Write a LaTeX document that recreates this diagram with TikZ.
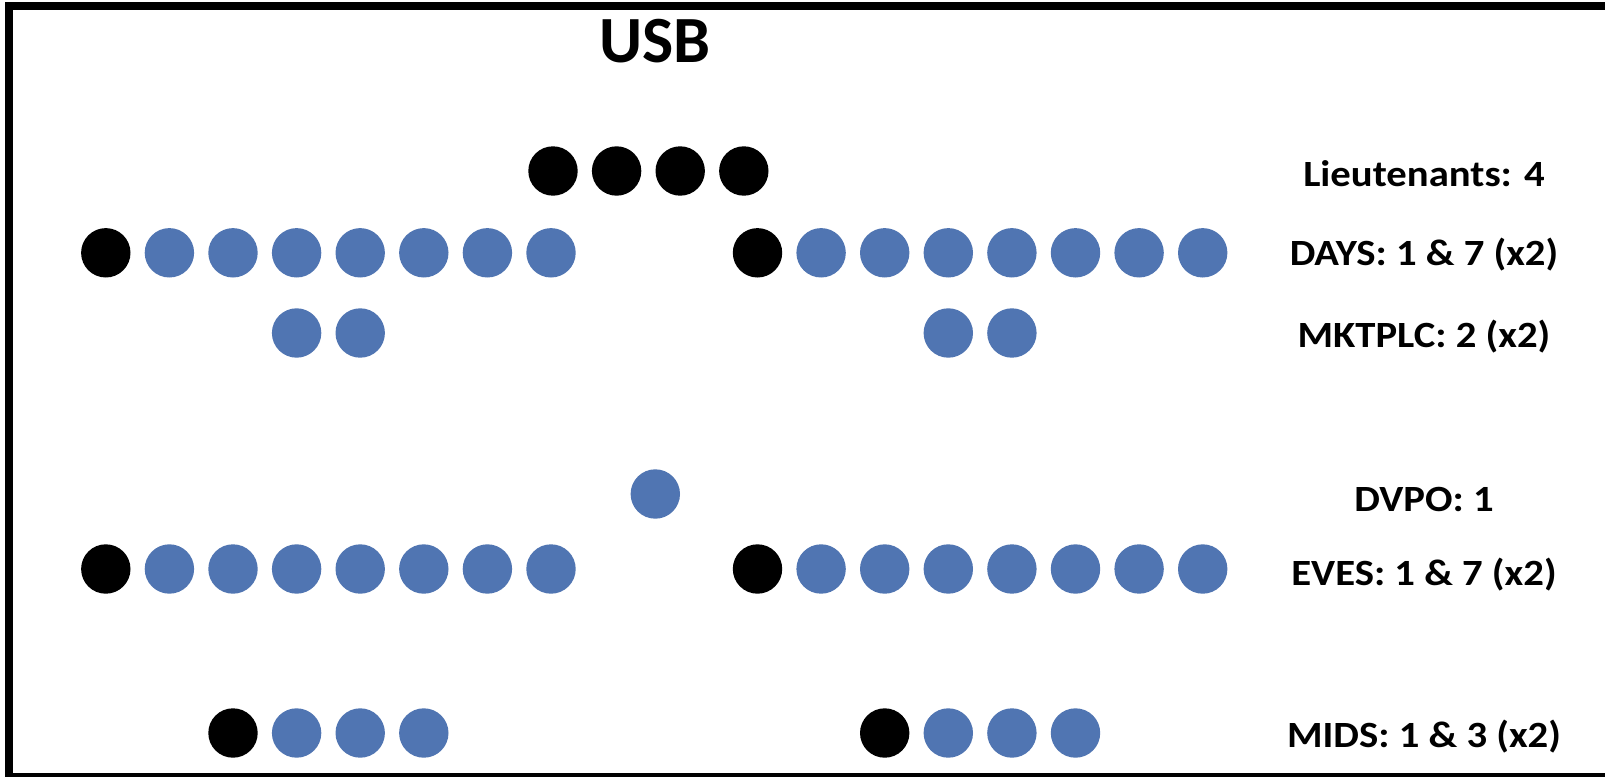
\documentclass[tikz,border=0pt]{standalone}
\usepackage{fontspec}
\setmainfont{Carlito}
\definecolor{dotblue}{RGB}{80,117,178}
\newcommand{\widelbl}[1]{\scalebox{1.10}[1]{#1}}
\tikzset{
  dot/.style={circle, inner sep=0pt, minimum size=49.4pt, fill=#1},
  lbl/.style={anchor=base, font=\bfseries\fontsize{37}{40}\selectfont, inner sep=0pt},
  frame/.style={line width=8pt, line join=miter}
}
\begin{document}
\begin{tikzpicture}[x=1pt,y=-1pt]
\useasboundingbox (0,0) rectangle (1605,776);
\fill[white] (0,0) rectangle (1605,776);
\draw[frame] (1615,6.3) -- (9,6.3) -- (9,776.7) -- (1615,776.7);
\node[anchor=base, font=\bfseries\fontsize{66}{70}\selectfont, inner sep=0pt] (usb) at (655,62.5) {USB};
% Lieutenants
\foreach \i in {0,...,3} \node[dot=black] (lt\i) at (553+63.6*\i,171) {};
% Days
\node[dot=black] (dl0) at (105.8,252.8) {};
\foreach \i in {1,...,7} \node[dot=dotblue] (dl\i) at (105.8+63.6*\i,252.8) {};
\node[dot=black] (dr0) at (757.5,252.8) {};
\foreach \i in {1,...,7} \node[dot=dotblue] (dr\i) at (757.5+63.6*\i,252.8) {};
% Marketplace
\foreach \i in {3,4} \node[dot=dotblue] (ml\i) at (105.8+63.6*\i,333) {};
\foreach \i in {3,4} \node[dot=dotblue] (mr\i) at (757.5+63.6*\i,333) {};
% DVPO
\node[dot=dotblue] (dvpo) at (655.3,494) {};
% Eves
\node[dot=black] (el0) at (105.8,569) {};
\foreach \i in {1,...,7} \node[dot=dotblue] (el\i) at (105.8+63.6*\i,569) {};
\node[dot=black] (er0) at (757.5,569) {};
\foreach \i in {1,...,7} \node[dot=dotblue] (er\i) at (757.5+63.6*\i,569) {};
% Mids
\node[dot=black] (nl2) at (105.8+63.6*2,733) {};
\foreach \i in {3,4,5} \node[dot=dotblue] (nl\i) at (105.8+63.6*\i,733) {};
\node[dot=black] (nr2) at (757.5+63.6*2,733) {};
\foreach \i in {3,4,5} \node[dot=dotblue] (nr\i) at (757.5+63.6*\i,733) {};
% Labels
\node[lbl] (l1) at (1424,186) {\widelbl{Lieutenants: 4}};
\node[lbl] (l2) at (1424,265) {\widelbl{DAYS: 1 \& 7 (x2)}};
\node[lbl] (l3) at (1424,347) {\widelbl{MKTPLC: 2 (x2)}};
\node[lbl] (l4) at (1424,511) {\widelbl{DVPO: 1}};
\node[lbl] (l5) at (1424,585) {\widelbl{EVES: 1 \& 7 (x2)}};
\node[lbl] (l6) at (1424,747) {\widelbl{MIDS: 1 \& 3 (x2)}};
\end{tikzpicture}
\end{document}
